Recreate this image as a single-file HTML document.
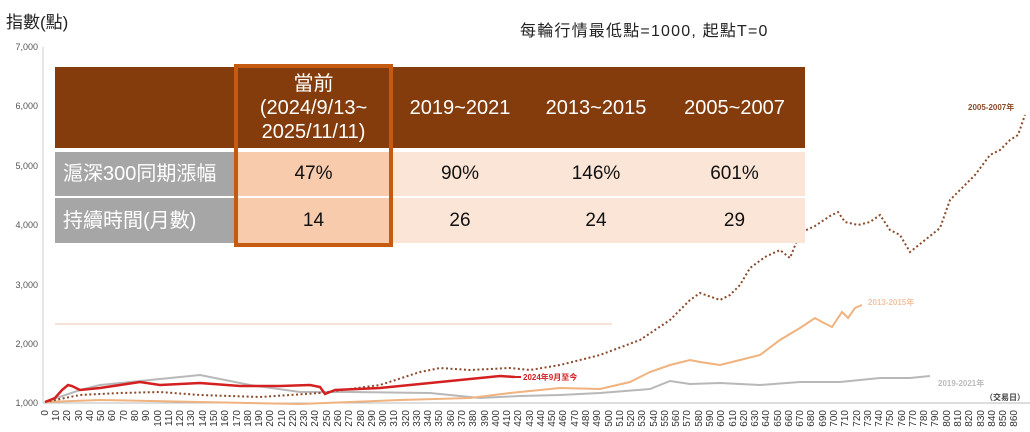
<!DOCTYPE html>
<html><head><meta charset="utf-8"><style>
body{margin:0;width:1030px;height:432px;background:#fff;overflow:hidden;font-family:"Liberation Sans","Noto Sans CJK TC",sans-serif}
svg{position:absolute;left:0;top:0}
.t{position:absolute;font-family:"Liberation Sans","Noto Sans CJK TC",sans-serif}
.c{position:absolute;display:flex;align-items:center;justify-content:center;text-align:center;font-size:19px;color:#111;line-height:24px}
</style></head><body>
<svg width="1030" height="432" xmlns="http://www.w3.org/2000/svg">
<g font-size="9" fill="#555" text-anchor="end" font-family="Liberation Sans, sans-serif">
<text x="38" y="50">7,000</text><text x="38" y="109">6,000</text><text x="38" y="169">5,000</text><text x="38" y="228">4,000</text><text x="38" y="288">3,000</text><text x="38" y="347">2,000</text><text x="38" y="406">1,000</text>
</g>
<line x1="43" y1="47" x2="43" y2="403" stroke="#ccc"/>
<line x1="43" y1="403" x2="1030" y2="403" stroke="#bbb"/>
<line x1="55" y1="324" x2="612" y2="324" stroke="#f3d9c8" stroke-width="1.5"/>
<polyline fill="none" stroke="#b8b8b8" stroke-width="2" points="45,402 80,390 100,385 150,380 200,375 250,385 300,392 350,392 430,393 480,398 520,396 560,395 600,393 650,389 670,381 690,384 720,383 760,385 800,382 840,382 880,378 910,378 930,376"/>
<polyline fill="none" stroke="#f0b27e" stroke-width="2" points="45,402 100,400 200,402 300,404 400,400 470,398 510,393 560,388 600,389 630,382 650,372 670,365 690,360 700,362 720,365 740,360 760,355 780,340 800,328 815,318 822,322 832,327 842,312 848,318 855,308 862,305"/>
<polyline fill="none" stroke="#8b4a2b" stroke-width="2" stroke-dasharray="2,2.5" points="45,402 80,395 120,393 160,392 200,395 260,397 320,393 380,385 420,372 440,368 470,370 510,368 530,370 560,365 600,355 640,340 670,320 690,300 700,293 720,300 730,295 740,285 750,268 765,257 780,250 790,258 800,233 815,226 830,216 838,212 845,222 858,225 870,222 880,215 890,230 900,235 910,252 925,240 940,228 950,200 965,185 975,175 990,155 1000,150 1010,140 1018,135 1025,115"/>
<polyline fill="none" stroke="#d42020" stroke-width="2.5" points="45,402 55,398 62,390 68,385 72,386 80,390 100,388 120,385 140,382 160,385 200,383 240,386 280,386 310,385 320,387 325,394 335,390 380,388 420,384 460,380 480,378 500,376 515,377"/>
<line x1="515" y1="377" x2="521" y2="377" stroke="#d42020" stroke-width="2"/>
<g font-size="8" font-weight="bold" font-family="Liberation Sans, Noto Sans CJK TC, sans-serif">
<text x="523" y="380" fill="#d42020">2024年9月至今</text>
<text x="868" y="305" fill="#f2c3a0">2013-2015年</text>
<text x="938" y="386" fill="#bbb">2019-2021年</text>
<text x="968" y="110" fill="#8b4a2b">2005-2007年</text>
<text x="985" y="400" fill="#444">（交易日）</text>
</g>
<g font-size="10" fill="#333" font-family="Liberation Sans, sans-serif">
<text transform="translate(48,410) rotate(-90)" text-anchor="end">0</text>
<text transform="translate(59,410) rotate(-90)" text-anchor="end">10</text>
<text transform="translate(70,410) rotate(-90)" text-anchor="end">20</text>
<text transform="translate(82,410) rotate(-90)" text-anchor="end">30</text>
<text transform="translate(93,410) rotate(-90)" text-anchor="end">40</text>
<text transform="translate(104,410) rotate(-90)" text-anchor="end">50</text>
<text transform="translate(115,410) rotate(-90)" text-anchor="end">60</text>
<text transform="translate(127,410) rotate(-90)" text-anchor="end">70</text>
<text transform="translate(138,410) rotate(-90)" text-anchor="end">80</text>
<text transform="translate(149,410) rotate(-90)" text-anchor="end">90</text>
<text transform="translate(161,410) rotate(-90)" text-anchor="end">100</text>
<text transform="translate(172,410) rotate(-90)" text-anchor="end">110</text>
<text transform="translate(183,410) rotate(-90)" text-anchor="end">120</text>
<text transform="translate(194,410) rotate(-90)" text-anchor="end">130</text>
<text transform="translate(206,410) rotate(-90)" text-anchor="end">140</text>
<text transform="translate(217,410) rotate(-90)" text-anchor="end">150</text>
<text transform="translate(228,410) rotate(-90)" text-anchor="end">160</text>
<text transform="translate(240,410) rotate(-90)" text-anchor="end">170</text>
<text transform="translate(251,410) rotate(-90)" text-anchor="end">180</text>
<text transform="translate(262,410) rotate(-90)" text-anchor="end">190</text>
<text transform="translate(273,410) rotate(-90)" text-anchor="end">200</text>
<text transform="translate(285,410) rotate(-90)" text-anchor="end">210</text>
<text transform="translate(296,410) rotate(-90)" text-anchor="end">220</text>
<text transform="translate(307,410) rotate(-90)" text-anchor="end">230</text>
<text transform="translate(318,410) rotate(-90)" text-anchor="end">240</text>
<text transform="translate(330,410) rotate(-90)" text-anchor="end">250</text>
<text transform="translate(341,410) rotate(-90)" text-anchor="end">260</text>
<text transform="translate(352,410) rotate(-90)" text-anchor="end">270</text>
<text transform="translate(364,410) rotate(-90)" text-anchor="end">280</text>
<text transform="translate(375,410) rotate(-90)" text-anchor="end">290</text>
<text transform="translate(386,410) rotate(-90)" text-anchor="end">300</text>
<text transform="translate(397,410) rotate(-90)" text-anchor="end">310</text>
<text transform="translate(409,410) rotate(-90)" text-anchor="end">320</text>
<text transform="translate(420,410) rotate(-90)" text-anchor="end">330</text>
<text transform="translate(431,410) rotate(-90)" text-anchor="end">340</text>
<text transform="translate(442,410) rotate(-90)" text-anchor="end">350</text>
<text transform="translate(454,410) rotate(-90)" text-anchor="end">360</text>
<text transform="translate(465,410) rotate(-90)" text-anchor="end">370</text>
<text transform="translate(476,410) rotate(-90)" text-anchor="end">380</text>
<text transform="translate(488,410) rotate(-90)" text-anchor="end">390</text>
<text transform="translate(499,410) rotate(-90)" text-anchor="end">400</text>
<text transform="translate(510,410) rotate(-90)" text-anchor="end">410</text>
<text transform="translate(521,410) rotate(-90)" text-anchor="end">420</text>
<text transform="translate(533,410) rotate(-90)" text-anchor="end">430</text>
<text transform="translate(544,410) rotate(-90)" text-anchor="end">440</text>
<text transform="translate(555,410) rotate(-90)" text-anchor="end">450</text>
<text transform="translate(566,410) rotate(-90)" text-anchor="end">460</text>
<text transform="translate(578,410) rotate(-90)" text-anchor="end">470</text>
<text transform="translate(589,410) rotate(-90)" text-anchor="end">480</text>
<text transform="translate(600,410) rotate(-90)" text-anchor="end">490</text>
<text transform="translate(612,410) rotate(-90)" text-anchor="end">500</text>
<text transform="translate(623,410) rotate(-90)" text-anchor="end">510</text>
<text transform="translate(634,410) rotate(-90)" text-anchor="end">520</text>
<text transform="translate(645,410) rotate(-90)" text-anchor="end">530</text>
<text transform="translate(657,410) rotate(-90)" text-anchor="end">540</text>
<text transform="translate(668,410) rotate(-90)" text-anchor="end">550</text>
<text transform="translate(679,410) rotate(-90)" text-anchor="end">560</text>
<text transform="translate(690,410) rotate(-90)" text-anchor="end">570</text>
<text transform="translate(702,410) rotate(-90)" text-anchor="end">580</text>
<text transform="translate(713,410) rotate(-90)" text-anchor="end">590</text>
<text transform="translate(724,410) rotate(-90)" text-anchor="end">600</text>
<text transform="translate(736,410) rotate(-90)" text-anchor="end">610</text>
<text transform="translate(747,410) rotate(-90)" text-anchor="end">620</text>
<text transform="translate(758,410) rotate(-90)" text-anchor="end">630</text>
<text transform="translate(769,410) rotate(-90)" text-anchor="end">640</text>
<text transform="translate(781,410) rotate(-90)" text-anchor="end">650</text>
<text transform="translate(792,410) rotate(-90)" text-anchor="end">660</text>
<text transform="translate(803,410) rotate(-90)" text-anchor="end">670</text>
<text transform="translate(814,410) rotate(-90)" text-anchor="end">680</text>
<text transform="translate(826,410) rotate(-90)" text-anchor="end">690</text>
<text transform="translate(837,410) rotate(-90)" text-anchor="end">700</text>
<text transform="translate(848,410) rotate(-90)" text-anchor="end">710</text>
<text transform="translate(860,410) rotate(-90)" text-anchor="end">720</text>
<text transform="translate(871,410) rotate(-90)" text-anchor="end">730</text>
<text transform="translate(882,410) rotate(-90)" text-anchor="end">740</text>
<text transform="translate(893,410) rotate(-90)" text-anchor="end">750</text>
<text transform="translate(905,410) rotate(-90)" text-anchor="end">760</text>
<text transform="translate(916,410) rotate(-90)" text-anchor="end">770</text>
<text transform="translate(927,410) rotate(-90)" text-anchor="end">780</text>
<text transform="translate(938,410) rotate(-90)" text-anchor="end">790</text>
<text transform="translate(950,410) rotate(-90)" text-anchor="end">800</text>
<text transform="translate(961,410) rotate(-90)" text-anchor="end">810</text>
<text transform="translate(972,410) rotate(-90)" text-anchor="end">820</text>
<text transform="translate(984,410) rotate(-90)" text-anchor="end">830</text>
<text transform="translate(995,410) rotate(-90)" text-anchor="end">840</text>
<text transform="translate(1006,410) rotate(-90)" text-anchor="end">850</text>
<text transform="translate(1017,410) rotate(-90)" text-anchor="end">860</text>
</g>
</svg>
<div class="t" style="left:6px;top:8px;font-size:17px;color:#222">指數(點)</div>
<div class="t" style="left:520px;top:17px;font-size:16px;color:#222;letter-spacing:1.2px">每輪行情最低點=1000, 起點T=0</div>
<div style="position:absolute;left:55px;top:67px;width:750px;height:81px;background:#843c0c"></div>
<div class="c" style="left:237px;top:67px;width:153px;height:81px;color:#fff;font-size:20px">當前<br>(2024/9/13~<br>2025/11/11)</div>
<div class="c" style="left:392px;top:67px;width:136px;height:81px;color:#fff;font-size:20px">2019~2021</div>
<div class="c" style="left:528px;top:67px;width:136px;height:81px;color:#fff;font-size:20px">2013~2015</div>
<div class="c" style="left:664px;top:67px;width:141px;height:81px;color:#fff;font-size:20px">2005~2007</div>
<div class="c" style="left:55px;top:152px;width:180px;height:44px;background:#a6a6a6;color:#fff;justify-content:flex-start;padding-left:8px;box-sizing:border-box;font-size:20px">滬深300同期漲幅</div>
<div class="c" style="left:55px;top:198px;width:180px;height:45px;background:#a6a6a6;color:#fff;justify-content:flex-start;padding-left:8px;box-sizing:border-box;font-size:20px">持續時間(月數)</div>
<div class="c" style="left:237px;top:152px;width:153px;height:44px;background:#f8cbad">47%</div>
<div class="c" style="left:237px;top:198px;width:153px;height:45px;background:#f8cbad">14</div>
<div class="c" style="left:392px;top:152px;width:413px;height:44px;background:#fbe5d6"></div>
<div class="c" style="left:392px;top:198px;width:413px;height:45px;background:#fbe5d6"></div>
<div class="c" style="left:392px;top:152px;width:136px;height:44px">90%</div>
<div class="c" style="left:528px;top:152px;width:136px;height:44px">146%</div>
<div class="c" style="left:664px;top:152px;width:141px;height:44px">601%</div>
<div class="c" style="left:392px;top:198px;width:136px;height:45px">26</div>
<div class="c" style="left:528px;top:198px;width:136px;height:45px">24</div>
<div class="c" style="left:664px;top:198px;width:141px;height:45px">29</div>
<div style="position:absolute;left:234px;top:64px;width:151px;height:175px;border:4px solid #c55a11"></div>
</body></html>
